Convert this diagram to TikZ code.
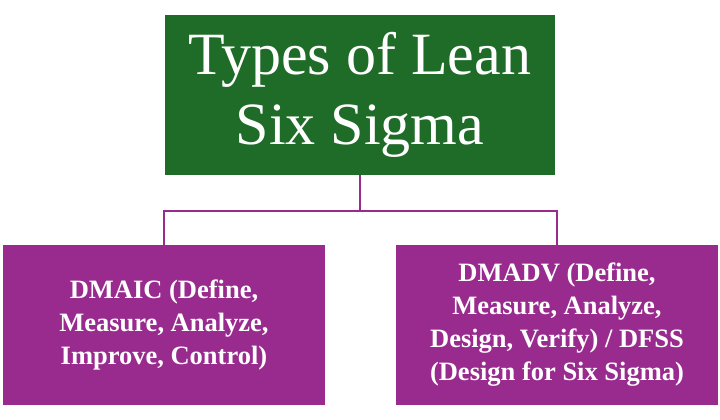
\documentclass[tikz,border=0pt]{standalone}
\usepackage{fontspec}
\setmainfont{Liberation Serif}
\definecolor{leangreen}{RGB}{31,107,40}
\definecolor{leanpurple}{RGB}{153,43,143}
\tikzset{
  titlebox/.style={fill=leangreen, text=white, minimum width=390pt, minimum height=160pt, align=center, font=\fontsize{60}{70}\selectfont},
  typebox/.style={fill=leanpurple, text=white, minimum width=322pt, minimum height=160pt, align=center, font=\fontsize{26.5}{33}\selectfont\bfseries},
  link/.style={draw=leanpurple, line width=2pt}
}
\begin{document}
\begin{tikzpicture}[x=1pt, y=-1pt]
\useasboundingbox (0,0) rectangle (720,420);
\node (title)[titlebox] at (360, 95) {Types of Lean\\Six Sigma};
\node (dmaic)[typebox] at (164, 325) {DMAIC (Define,\\Measure, Analyze,\\Improve, Control)};
\node (dmadv)[typebox] at (557, 325) {DMADV (Define,\\Measure, Analyze,\\Design, Verify) / DFSS\\(Design for Six Sigma)};
\coordinate (split) at (360, 211);
\draw[link] (title.south) -- (split);
\draw[link] (split) -| (dmaic.north);
\draw[link] (split) -| (dmadv.north);
\end{tikzpicture}
\end{document}
